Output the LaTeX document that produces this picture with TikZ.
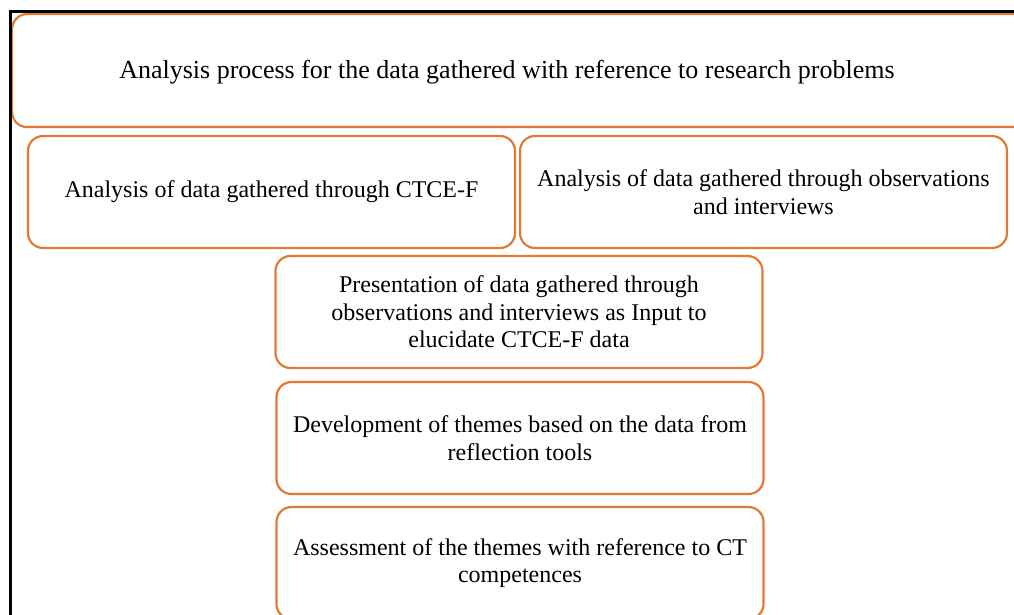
\documentclass[tikz,border=0pt]{standalone}
\usepackage{fontspec}
\setmainfont{Liberation Serif}
\definecolor{boxorange}{HTML}{E07A35}
\begin{document}
\begin{tikzpicture}[x=1pt,y=-1pt,
  stagebox/.style={draw=boxorange, line width=2.2pt, rounded corners=15pt,
    minimum width=487pt, minimum height=112pt, align=center,
    font=\fontsize{24}{27.5}\selectfont, inner sep=0pt, fill=white},
  frameline/.style={draw=black, line width=3pt}]
\useasboundingbox (0,0) rectangle (1014,615);
\clip (0,0) rectangle (1014,615);
% banner box across the top
\node[stagebox, minimum width=1030pt, minimum height=113pt, anchor=north west] (title) at (11,13) {};
\node[font=\fontsize{26}{30}\selectfont] (titletext) at (507,72)
  {Analysis process for the data gathered with reference to research problems};
% analysis stages
\node[stagebox] (cf) at (271.5,192) {Analysis of data gathered through CTCE-F};
\node[stagebox] (oi) at (763.5,192) {Analysis of data gathered through observations\\and interviews};
\node[stagebox] (pres) at (519,312) {Presentation of data gathered through\\observations and interviews as Input to\\elucidate CTCE-F data};
\node[stagebox] (themes) at (520,438) {Development of themes based on the data from\\reflection tools};
\node[stagebox] (assess) at (520,563) {Assessment of the themes with reference to CT\\competences};
% outer frame on the left and top
\coordinate (fb) at (10,616);
\coordinate (fc) at (10,12);
\coordinate (fr) at (1015,12);
\draw[frameline] (fb) -- (fc) -- (fr);
\end{tikzpicture}
\end{document}
